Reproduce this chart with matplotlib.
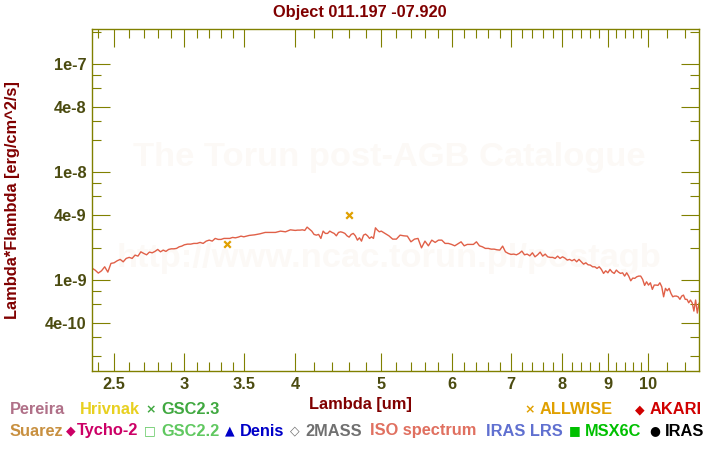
"""SED plot for object 011.197 -07.920 (Torun post-AGB catalogue style)."""
import matplotlib
matplotlib.use("Agg")
import matplotlib.pyplot as plt
from matplotlib.ticker import FixedLocator, NullFormatter

# ISO spectrum: wavelength [um] and lambda*F_lambda [1e-9 erg/cm^2/s]
iso_wave = [
    2.36, 2.38, 2.40, 2.42, 2.44, 2.46, 2.48, 2.50, 2.52, 2.54, 2.56, 2.58,
    2.60, 2.62, 2.64, 2.66, 2.68, 2.70, 2.72, 2.74, 2.76, 2.78, 2.80, 2.82,
    2.84, 2.86, 2.88, 2.90, 2.92, 2.94, 2.96, 2.98, 3.00,
    3.025, 3.05, 3.075, 3.10, 3.125, 3.15, 3.175, 3.20, 3.225, 3.25, 3.275,
    3.30, 3.325, 3.35, 3.375, 3.40, 3.425, 3.45, 3.475, 3.50, 3.55, 3.60,
    3.65, 3.70, 3.75, 3.80, 3.85, 3.90, 3.95, 4.00,
    4.025, 4.05, 4.075, 4.10, 4.125, 4.15, 4.175, 4.20, 4.225, 4.25, 4.275,
    4.30, 4.325, 4.35, 4.375, 4.40, 4.425, 4.45, 4.475, 4.50, 4.525, 4.55,
    4.575, 4.60, 4.625, 4.65, 4.675, 4.70, 4.725, 4.75, 4.775, 4.80, 4.825,
    4.85, 4.875, 4.90, 4.925, 4.95, 4.975, 5.00,
    5.05, 5.10, 5.15, 5.20, 5.25, 5.30, 5.35, 5.40, 5.45, 5.50, 5.55, 5.60,
    5.65, 5.70, 5.75, 5.80, 5.85, 5.90, 5.95, 6.00,
    6.05, 6.10, 6.15, 6.20, 6.25, 6.30, 6.35, 6.40, 6.45, 6.50, 6.55, 6.60,
    6.65, 6.70, 6.75, 6.80, 6.85, 6.90, 6.95, 7.00, 7.05, 7.10, 7.15, 7.20,
    7.25, 7.30, 7.35, 7.40, 7.45, 7.50, 7.55, 7.60, 7.65, 7.70, 7.75, 7.80,
    7.85, 7.90, 7.95, 8.00,
    8.05, 8.10, 8.15, 8.20, 8.25, 8.30, 8.35, 8.40, 8.45, 8.50, 8.55, 8.60,
    8.65, 8.70, 8.75, 8.80, 8.85, 8.90, 8.95, 9.00, 9.05, 9.10, 9.15, 9.20,
    9.25, 9.30, 9.35, 9.40, 9.45, 9.50, 9.55, 9.60, 9.65, 9.70, 9.75, 9.80,
    9.85, 9.90, 9.95, 10.00, 10.05, 10.10, 10.15, 10.20, 10.25, 10.30, 10.35,
    10.40, 10.45, 10.50, 10.55, 10.60, 10.65, 10.70, 10.75, 10.80, 10.85,
    10.90, 10.95, 11.00, 11.05, 11.10, 11.15, 11.20, 11.25, 11.30, 11.35,
    11.40,
]
iso_flux = [
    1.292, 1.238, 1.161, 1.219, 1.328, 1.186, 1.428, 1.446, 1.509, 1.555,
    1.477, 1.588, 1.623, 1.588, 1.704, 1.668, 1.828, 1.767, 1.715, 1.816,
    1.790, 1.844, 1.924, 1.828, 1.896, 1.844, 1.924, 1.949, 1.949, 1.966,
    2.034, 2.065, 2.123,
    2.154, 2.154, 2.187, 2.187, 2.234, 2.187, 2.297, 2.346, 2.297, 2.433,
    2.382, 2.382, 2.433, 2.433, 2.433, 2.485, 2.464, 2.501, 2.555, 2.517,
    2.594, 2.627, 2.684, 2.765, 2.765, 2.765, 2.843, 2.801, 2.923, 2.885,
    2.904, 2.904, 2.923, 2.885, 3.096, 2.967, 2.843, 2.649, 2.610, 2.649,
    2.433, 2.843, 2.707, 2.707, 2.843, 2.765, 2.707, 2.572, 2.765, 2.801,
    2.765, 2.707, 2.572, 2.501, 2.649, 2.707, 2.572, 2.346, 2.464, 2.297,
    2.610, 2.667, 2.572, 2.433, 2.517, 2.433, 3.051, 2.904, 2.801, 2.843,
    2.707, 2.572, 2.397, 2.397, 2.610, 2.572, 2.555, 2.263, 2.397, 2.433,
    1.991, 2.297, 2.078, 2.346, 2.234, 2.346, 2.346, 2.187, 2.187, 2.141,
    2.078, 2.168, 2.263, 2.078, 2.141, 2.141, 2.141, 2.263, 2.078, 2.034,
    1.966, 1.966, 1.936, 1.936, 1.909, 1.896, 2.065, 1.828, 1.767, 1.730,
    1.741, 1.715, 1.767, 1.856, 1.715, 1.741, 1.679, 1.790, 1.643, 1.715,
    1.816, 1.668, 1.741, 1.643, 1.623, 1.623, 1.588, 1.668, 1.588, 1.643,
    1.599, 1.532, 1.555, 1.509, 1.555, 1.477, 1.555, 1.477, 1.406, 1.446,
    1.386, 1.377, 1.328, 1.328, 1.283, 1.328, 1.256, 1.153, 1.219, 1.168,
    1.256, 1.186, 1.153, 1.238, 1.186, 1.153, 1.168, 1.089, 1.168, 1.089,
    0.985, 1.044, 1.037, 1.073, 1.089, 1.089, 1.015, 0.893, 0.964, 0.899,
    0.944, 0.820, 0.899, 0.899, 0.893, 0.944, 0.867, 0.700, 0.838, 0.796,
    0.838, 0.753, 0.700, 0.711, 0.711, 0.700, 0.663, 0.711, 0.726, 0.663,
    0.663, 0.616, 0.653, 0.616, 0.516, 0.653, 0.495, 0.609,
]
FLUX_UNIT = 1e-9

# ALLWISE photometry
wise_wave = [3.35, 4.60]
wise_flux = [2.15e-9, 3.97e-9]

XLIM = (2.361, 11.40)
YLIM = (1.437e-10, 2.123e-7)
x_major = [2.5, 3, 3.5, 4, 5, 6, 7, 8, 9, 10]
x_major_labels = ["2.5", "3", "3.5", "4", "5", "6", "7", "8", "9", "10"]
x_minor = ([2.4, 2.6, 2.7, 2.8, 2.9, 3.1, 3.2, 3.3, 3.4]
           + [4.2, 4.4, 4.6, 4.8, 5.2, 5.4, 5.6, 5.8, 6.2, 6.4, 6.6, 6.8,
              7.2, 7.4, 7.6, 7.8, 8.2, 8.4, 8.6, 8.8, 9.2, 9.4, 9.6, 9.8,
              10.5, 11])
y_major = [4e-10, 1e-9, 4e-9, 1e-8, 4e-8, 1e-7]
y_major_labels = ["4e-10", "1e-9", "4e-9", "1e-8", "4e-8", "1e-7"]
y_minor = [2e-10, 3e-10, 6e-10, 8e-10, 2e-9, 3e-9, 6e-9, 8e-9,
           2e-8, 3e-8, 6e-8, 8e-8, 2e-7]

# legend rows: (symbol, label, colour, symbol x px, text x px)
legend_row1 = [("", "Pereira", "#b07088", 0, 10),
               ("", "Hrivnak", "#e8d020", 0, 80),
               ("×", "GSC2.3", "#40a840", 151, 161),
               ("×", "ALLWISE", "#e0a000", 530, 540),
               ("◆", "AKARI", "#d00000", 640, 650)]
legend_row2 = [("", "Suarez", "#c89040", 0, 10),
               ("◆", "Tycho-2", "#cc0066", 71, 77),
               ("□", "GSC2.2", "#60c860", 150, 161),
               ("▲", "Denis", "#0000c8", 230, 240),
               ("◇", "2MASS", "#707070", 295, 305),
               ("", "ISO spectrum", "#e07060", 0, 370),
               ("", "IRAS LRS", "#6070d0", 0, 486),
               ("■", "MSX6C", "#00c000", 575, 585),
               ("●", "IRAS", "#000000", 655, 665)]

W, H = 720, 450
plt.rcParams.update({"font.family": ["Liberation Sans", "DejaVu Sans"],
                     "font.weight": "bold"})
OLIVE = "#808000"
TICKTXT = "#4b4b10"
DARKRED = "#800000"

fig = plt.figure(figsize=(W / 100, H / 100), dpi=100)
ax = fig.add_axes([92 / W, 1 - 371 / H, (699 - 92) / W, (371 - 29) / H])

# watermark
ax.text(0.49, 0.625, "The Torun post-AGB Catalogue", transform=ax.transAxes,
        ha="center", va="center", fontsize=24.8, fontweight="bold",
        color="#fcf9f6", zorder=0)
ax.text(0.49, 0.33, "http://www.ncac.torun.pl/postagb", transform=ax.transAxes,
        ha="center", va="center", fontsize=24.8, fontweight="bold",
        color="#fcf9f6", zorder=0)

ax.plot(iso_wave, [f * FLUX_UNIT for f in iso_flux], color="#e06048", lw=1.0,
        zorder=2)
ax.scatter(wise_wave, wise_flux, marker="x", s=22, color="#e0a000",
           linewidths=1.6, zorder=3)

ax.set_xscale("log")
ax.set_yscale("log")
ax.set_xlim(*XLIM)
ax.set_ylim(*YLIM)

ax.xaxis.set_major_locator(FixedLocator(x_major))
ax.xaxis.set_minor_locator(FixedLocator(x_minor))
ax.set_xticklabels(x_major_labels)
ax.xaxis.set_minor_formatter(NullFormatter())
ax.yaxis.set_major_locator(FixedLocator(y_major))
ax.yaxis.set_minor_locator(FixedLocator(y_minor))
ax.set_yticklabels(y_major_labels)
ax.yaxis.set_minor_formatter(NullFormatter())

ax.tick_params(which="both", direction="in", top=True, right=True,
               color=OLIVE, width=0.8)
ax.tick_params(which="major", length=13, pad=4, labelsize=11.8,
               labelcolor=TICKTXT)
ax.tick_params(which="minor", length=6.5)
for lab in ax.get_xticklabels() + ax.get_yticklabels():
    lab.set_fontweight("bold")
for sp in ax.spines.values():
    sp.set_color(OLIVE)
    sp.set_linewidth(1.0)

fig.text(0.5, 1 - 12 / H, "Object 011.197 -07.920", ha="center", va="center",
         fontsize=11.8, fontweight="bold", color=DARKRED)
fig.text(0.5, 1 - 404 / H, "Lambda [um]", ha="center", va="center",
         fontsize=11.8, fontweight="bold", color=DARKRED)
fig.text(13 / W, 1 - 200 / H, "Lambda*Flambda [erg/cm^2/s]", ha="center",
         va="center", rotation=90, fontsize=11.8, fontweight="bold",
         color=DARKRED)

for row, ypix in [(legend_row1, 410), (legend_row2, 431)]:
    for sym, lab, col, sx, tx in row:
        if sym:
            fig.text(sx / W, 1 - ypix / H, sym, ha="center", va="center",
                     fontsize=9, color=col, fontweight="bold",
                     family=["DejaVu Sans"])
        fig.text(tx / W, 1 - ypix / H, lab, ha="left", va="center",
                 fontsize=11.8, fontweight="bold", color=col)

fig.savefig("out.png", dpi=100)
